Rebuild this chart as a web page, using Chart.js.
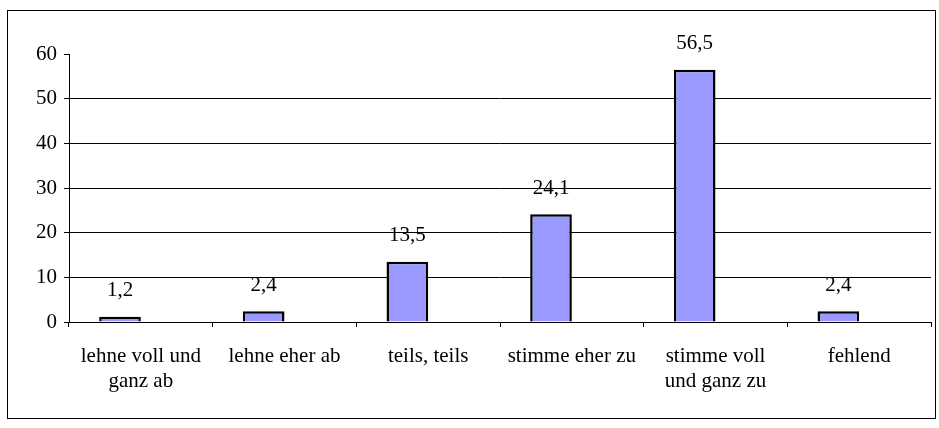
<!DOCTYPE html>
<html>
<head>
<meta charset="utf-8">
<script src="https://cdn.jsdelivr.net/npm/chart.js@4.4.0/dist/chart.umd.min.js"></script>
<style>
  body { margin: 0; background: #fff; }
  #box { position: absolute; left: 7px; top: 10px; width: 927px; height: 407px; border: 1px solid #000; }
</style>
</head>
<body>
<div id="box"><canvas id="chart" width="927" height="407"></canvas></div>
<script>
const categories = [['lehne voll und', 'ganz ab'], 'lehne eher ab', 'teils, teils', 'stimme eher zu', ['stimme voll', 'und ganz zu'], 'fehlend'];
const percent = [1.2, 2.4, 13.5, 24.1, 56.5, 2.4];
const emptySeries = [null, null, null, null, null, null];
const yTicks = [0, 10, 20, 30, 40, 50, 60];

const font = { family: '"Liberation Serif", "Times New Roman", serif', size: 21 };

// value labels above the bars, German decimal comma
const valueLabels = {
  id: 'valueLabels',
  afterDatasetsDraw(chart) {
    const c = chart.ctx;
    const meta = chart.getDatasetMeta(0);
    c.save();
    c.font = font.size + 'px ' + font.family;
    c.fillStyle = '#000';
    c.textAlign = 'center';
    c.textBaseline = 'middle';
    meta.data.forEach((bar, i) => {
      c.fillText(String(percent[i]).replace('.', ','), bar.x, bar.y - 26);
    });
    c.restore();
  }
};

new Chart(document.getElementById('chart'), {
  type: 'bar',
  data: {
    labels: categories,
    datasets: [{
      data: percent,
      backgroundColor: '#9999FF',
      borderColor: '#000',
      borderWidth: 2.5,
      categoryPercentage: 0.58,
      barPercentage: 1
    }, {
      data: emptySeries,
      categoryPercentage: 0.58,
      barPercentage: 1
    }]
  },
  options: {
    responsive: false,
    animation: false,
    layout: { padding: { top: 43, right: 4, left: 0, bottom: 0 } },
    plugins: { legend: { display: false }, tooltip: { enabled: false } },
    scales: {
      x: {
        afterFit(scale) { scale.height = 96; },
        grid: { offset: true, drawOnChartArea: false, tickLength: 5, color: '#000' },
        border: { color: '#000', width: 1 },
        ticks: { color: '#000', font: { ...font, lineHeight: 1.2 }, padding: 17, maxRotation: 0, autoSkip: false }
      },
      y: {
        min: 0,
        max: 60,
        afterFit(scale) { scale.width = 61; },
        afterBuildTicks(scale) { scale.ticks = yTicks.map(v => ({ value: v })); },
        grid: {
          color: ctx => (ctx.tick && (ctx.tick.value === 0 || ctx.tick.value === 60)) ? 'rgba(0,0,0,0)' : '#000',
          tickColor: '#000',
          tickLength: 5
        },
        border: { color: '#000', width: 1 },
        ticks: { color: '#000', font: font, padding: 7 }
      }
    }
  },
  plugins: [valueLabels]
});
</script>
</body>
</html>
